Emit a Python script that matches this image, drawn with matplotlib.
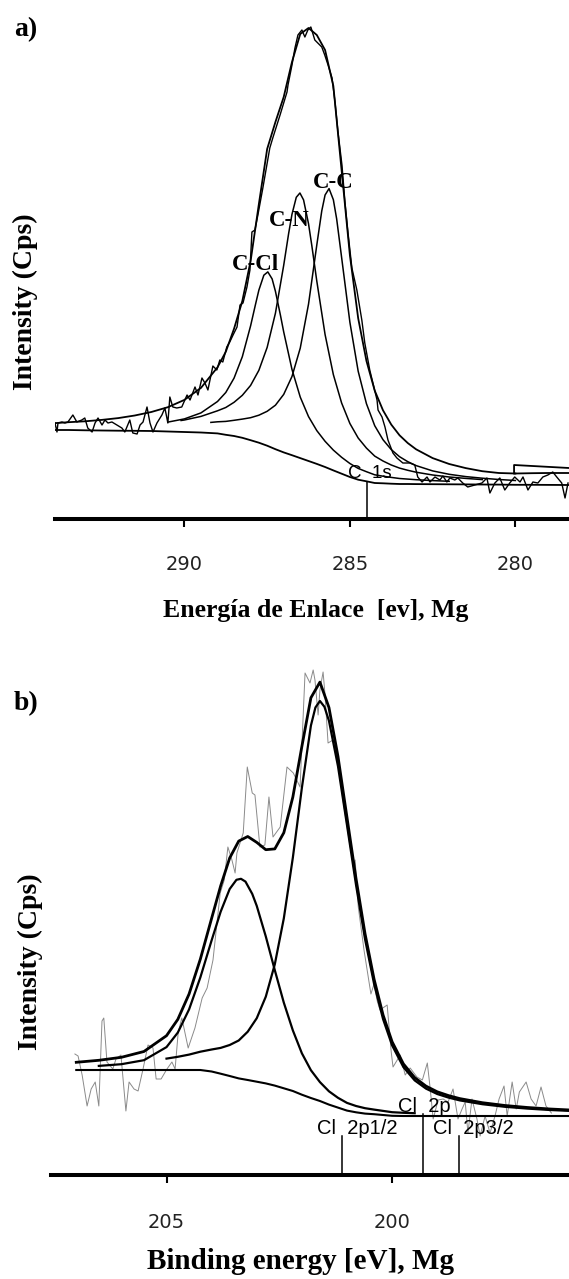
import matplotlib
matplotlib.use("Agg")
import matplotlib.pyplot as plt

# ================= panel a) : C 1s =================
e_raw_a = [293.91, 293.85, 293.82, 293.70, 293.61, 293.52, 293.37, 293.25, 293.10, 293.01,
           292.92, 292.79, 292.70, 292.61, 292.49, 292.40, 292.31, 292.19, 292.04, 291.89,
           291.80, 291.65, 291.56, 291.43, 291.34, 291.25, 291.13, 291.04, 290.95, 290.83,
           290.68, 290.59, 290.50, 290.44, 290.35, 290.23, 290.08, 289.92, 289.83, 289.68,
           289.59, 289.47, 289.38, 289.29, 289.14, 289.02, 288.93, 288.84, 288.72, 288.63,
           288.53, 288.41, 288.32, 288.23, 288.11, 288.02, 287.96, 287.87, 287.78, 287.63,
           287.42, 287.33, 287.11, 286.90, 286.87, 286.75, 286.66, 286.57, 286.45, 286.36,
           286.27, 286.18, 286.06, 285.85, 285.76, 285.66, 285.54, 285.45, 285.36, 285.24,
           285.15, 285.06, 284.94, 284.79, 284.64, 284.55, 284.40, 284.18, 284.15, 284.03,
           283.94, 283.85, 283.70, 283.58, 283.40, 283.19, 283.04, 282.95, 282.82, 282.67,
           282.58, 282.43, 282.28, 282.19, 282.07, 281.98, 281.83, 281.74, 281.59, 281.44,
           281.22, 281.01, 280.86, 280.77, 280.62, 280.47, 280.32, 280.17, 280.02, 279.86,
           279.77, 279.62, 279.47, 279.32, 279.17, 279.02, 278.87, 278.75, 278.60, 278.50,
           278.41]
i_raw_a = [960, 870, 960, 970, 960, 970, 1040, 970, 990, 1010,
           910, 870, 960, 1010, 940, 990, 960, 970, 940, 910,
           870, 990, 860, 850, 940, 970, 1120, 960, 870, 960,
           1040, 1110, 960, 1220, 1120, 1110, 1120, 1240, 1190, 1320,
           1240, 1410, 1360, 1290, 1530, 1490, 1590, 1570, 1720, 1770,
           1840, 1920, 2140, 2160, 2320, 2490, 2870, 2890, 3040, 3310,
           3710, 3810, 4040, 4270, 4340, 4540, 4710, 4840, 4890, 4820,
           4890, 4920, 4790, 4720, 4640, 4540, 4410, 4170, 3870, 3540,
           3170, 2870, 2510, 2290, 1990, 1760, 1490, 1190, 1090, 1020,
           920, 790, 660, 610, 560, 560, 540, 420, 370, 420,
           370, 420, 390, 430, 370, 410, 390, 410, 360, 320,
           340, 360, 410, 260, 360, 410, 290, 360, 420, 370,
           420, 290, 370, 360, 420, 440, 470, 420, 360, 210,
           360]

e_fit_a = [293.9, 293.5, 293.0, 292.5, 292.0, 291.5, 291.0, 290.5, 290.0, 289.5,
           289.0, 288.75, 288.5, 288.25, 288.0, 287.75, 287.5, 287.25, 287.0, 286.75,
           286.5, 286.25, 286.0, 285.75, 285.5, 285.25, 285.0, 284.75, 284.5, 284.25,
           284.0, 283.75, 283.5, 283.25, 283.0, 282.5, 282.0, 281.5, 281.0, 280.5,
           280.0, 279.5, 279.0, 278.4]
bg_a = [890, 890, 887, 885, 883, 882, 880, 875, 870, 865,
        856, 842, 830, 812, 788, 763, 733, 698, 666, 638,
        609, 580, 551, 520, 486, 453, 420, 393, 377, 360,
        357, 353, 350, 350, 349, 348, 347, 346, 345, 344,
        342, 342, 341, 340]
env_a = [959, 968, 977, 991, 1009, 1035, 1070, 1118, 1191, 1311,
         1517, 1672, 1903, 2180, 2580, 3150, 3700, 3970, 4220, 4570,
         4850, 4910, 4840, 4690, 4330, 3486, 2637, 2008, 1581, 1284,
         1087, 944, 837, 759, 697, 609, 550, 509, 478, 460,
         455, 458, 460, 460]

e_cc = [289.2, 289.0, 288.75, 288.5, 288.25, 288.0, 287.75, 287.5, 287.25, 287.0,
        286.75, 286.5, 286.25, 286.0, 285.85, 285.75, 285.63, 285.5, 285.4, 285.25,
        285.0, 284.75, 284.5, 284.25, 284.0, 283.75, 283.5, 283.25, 283.0, 282.5,
        282.0, 281.5, 281.0, 280.5, 280.0]
i_cc = [966, 972, 976, 987, 999, 1013, 1038, 1077, 1138, 1246,
        1425, 1709, 2149, 2740, 3081, 3240, 3304, 3193, 3001, 2615,
        1967, 1478, 1153, 933, 793, 694, 623, 573, 534, 481,
        447, 424, 408, 395, 385]

e_cn = [290.1, 290.0, 289.5, 289.0, 288.75, 288.5, 288.25, 288.0, 287.75, 287.5,
        287.25, 287.0, 286.85, 286.75, 286.62, 286.51, 286.4, 286.25, 286.15, 286.0,
        285.75, 285.5, 285.25, 285.0, 284.75, 284.5, 284.25, 284.0, 283.75, 283.5,
        283.25, 283.0, 282.5, 282.0, 281.5, 281.0]
i_cn = [985, 990, 1026, 1082, 1115, 1167, 1237, 1336, 1487, 1716,
        2058, 2537, 2857, 3047, 3217, 3260, 3191, 2952, 2733, 2379,
        1845, 1444, 1160, 955, 810, 709, 629, 580, 540, 509,
        487, 468, 440, 420, 406, 394]

e_ccl = [290.5, 290.0, 289.5, 289.0, 288.75, 288.5, 288.25, 288.0, 287.85, 287.75,
         287.6, 287.48, 287.35, 287.25, 287.1, 287.0, 286.75, 286.5, 286.25, 286.0,
         285.75, 285.5, 285.25, 285.0, 284.75, 284.5, 284.25, 284.0, 283.75, 283.5,
         283.0, 282.5, 282.0]
i_ccl = [969, 1001, 1061, 1175, 1265, 1409, 1623, 1932, 2149, 2289,
         2438, 2471, 2401, 2277, 2040, 1871, 1496, 1219, 1024, 884,
         777, 689, 617, 555, 506, 473, 442, 428, 416, 405,
         393, 384, 377]

e_step_a = [280.04, 280.04, 278.38]
i_step_a = [455, 540, 510]

c1s_pos = 284.49
c1s_top = 370
ticks_a = [290, 285, 280]
labels_a = ["C-Cl", "C-N", "C-C"]

# ================= panel b) : Cl 2p =================
e_raw_b = [207.03, 206.96, 206.87, 206.76, 206.67, 206.58, 206.50, 206.43, 206.39, 206.32,
           206.19, 206.12, 206.01, 205.90, 205.83, 205.72, 205.63, 205.52, 205.41, 205.30,
           205.23, 205.12, 204.99, 204.88, 204.81, 204.74, 204.66, 204.52, 204.37, 204.21,
           204.10, 203.97, 203.81, 203.72, 203.64, 203.55, 203.48, 203.44, 203.30, 203.21,
           203.10, 203.04, 202.93, 202.82, 202.73, 202.64, 202.48, 202.33, 202.19, 202.04,
           201.93, 201.82, 201.75, 201.71, 201.64, 201.60, 201.53, 201.49, 201.42, 201.31,
           201.22, 201.09, 200.93, 200.89, 200.86, 200.82, 200.75, 200.62, 200.47, 200.40,
           200.33, 200.27, 200.11, 200.02, 199.98, 199.82, 199.71, 199.60, 199.45, 199.33,
           199.22, 199.16, 199.09, 198.98, 198.87, 198.76, 198.65, 198.54, 198.45, 198.38,
           198.32, 198.23, 198.12, 198.05, 197.94, 197.83, 197.72, 197.63, 197.52, 197.45,
           197.34, 197.25, 197.18, 197.03, 196.92, 196.81, 196.70, 196.59, 196.47]
i_raw_b = [1210, 1190, 1000, 690, 860, 930, 690, 1540, 1570, 1130,
           1060, 1160, 1200, 640, 930, 860, 840, 1060, 1300, 1270,
           960, 960, 1060, 1130, 1060, 1430, 1570, 1270, 1470, 1770,
           1870, 2150, 2820, 2950, 3280, 3150, 3020, 3220, 3420, 4080,
           3820, 3800, 3280, 3300, 3780, 3380, 3480, 4080, 4020, 3880,
           5020, 4920, 5050, 4950, 4600, 4850, 5030, 4820, 4320, 4350,
           4180, 3750, 3280, 3220, 3080, 3150, 2680, 2240, 1810, 1910,
           1740, 1650, 1700, 1230, 1080, 1200, 1000, 1070, 980, 950,
           1120, 880, 560, 750, 760, 730, 860, 560, 660, 730,
           420, 760, 560, 390, 590, 420, 590, 760, 890, 590,
           930, 660, 830, 930, 760, 690, 880, 690, 620]

e_fit_b = [207.0, 206.5, 206.0, 205.5, 205.0, 204.75, 204.5, 204.25, 204.0, 203.8,
           203.6, 203.4, 203.2, 203.0, 202.8, 202.6, 202.4, 202.2, 202.0, 201.8,
           201.6, 201.4, 201.2, 201.0, 200.8, 200.6, 200.4, 200.2, 200.0, 199.75,
           199.5, 199.25, 199.0, 198.75, 198.5, 198.0, 197.5, 197.0, 196.5, 196.1]
bg_b = [1050, 1050, 1050, 1050, 1050, 1050, 1050, 1050, 1035, 1013,
        990, 966, 950, 933, 916, 894, 867, 840, 803, 770,
        740, 704, 674, 644, 627, 614, 608, 600, 592, 590,
        590, 590, 590, 590, 590, 590, 590, 590, 590, 590]
env_b = [1127, 1147, 1177, 1235, 1393, 1556, 1810, 2159, 2567, 2891,
         3170, 3339, 3385, 3326, 3253, 3261, 3423, 3780, 4286, 4772,
         4929, 4675, 4186, 3575, 2964, 2412, 1958, 1599, 1332, 1111,
         974, 889, 832, 794, 764, 723, 695, 675, 660, 651]

e_p32 = [205.0, 204.75, 204.5, 204.25, 204.0, 203.8, 203.6, 203.4, 203.2, 203.0,
         202.8, 202.6, 202.4, 202.2, 202.0, 201.8, 201.7, 201.6, 201.5, 201.4,
         201.2, 201.0, 200.8, 200.6, 200.4, 200.2, 200.0, 199.75, 199.5, 199.25,
         199.0, 198.75, 198.5, 198.0, 197.5, 197.0, 196.5, 196.1]
i_p32 = [1164, 1182, 1204, 1233, 1255, 1271, 1300, 1345, 1433, 1568,
         1783, 2107, 2567, 3174, 3872, 4494, 4675, 4740, 4682, 4542,
         4088, 3498, 2901, 2358, 1912, 1558, 1296, 1079, 946, 864,
         810, 774, 746, 708, 682, 664, 650, 642]

e_p12 = [206.5, 206.0, 205.5, 205.0, 204.75, 204.5, 204.25, 204.0, 203.8, 203.6,
         203.45, 203.35, 203.25, 203.1, 203.0, 202.8, 202.6, 202.4, 202.2, 202.0,
         201.8, 201.6, 201.4, 201.2, 201.0, 200.8, 200.6, 200.4, 200.2, 200.0,
         199.75, 199.5]
i_p12 = [1091, 1108, 1148, 1279, 1424, 1656, 1976, 2347, 2633, 2860,
         2952, 2962, 2934, 2811, 2691, 2386, 2048, 1723, 1446, 1217,
         1048, 929, 837, 772, 721, 690, 668, 654, 641, 628,
         622, 618]

cl_pos = [201.11, 199.31, 198.51]
cl_tops = [390, 610, 390]
cl_labels = ["Cl  2p1/2", "Cl  2p", "Cl  2p3/2"]
ticks_b = [205, 200]

# ================= drawing =================
SERIF = "Liberation Serif"
SANS = "Liberation Sans"

fig = plt.figure(figsize=(5.69, 12.79), dpi=100)
fig.patch.set_facecolor("white")

def style_axes(ax, ticks, pad):
    for s in ("left", "right", "top"):
        ax.spines[s].set_visible(False)
    ax.spines["bottom"].set_linewidth(2.9)
    ax.set_yticks([])
    ax.set_xticks(ticks)
    ax.tick_params(axis="x", direction="out", length=6, width=1.5, pad=pad,
                   labelsize=14)
    for lab in ax.get_xticklabels():
        lab.set_fontfamily("DejaVu Sans")
        lab.set_color("#222222")

# ---- panel a ----
ax1 = fig.add_axes([55 / 569, (1279 - 519) / 1279, 514 / 569, 504 / 1279])
ax1.plot(e_raw_a, i_raw_a, color="black", lw=1.0, zorder=2)
ax1.plot(e_fit_a, bg_a, color="black", lw=1.3, zorder=3)
ax1.plot(e_fit_a[:41], env_a[:41], color="black", lw=1.3, zorder=3)
ax1.plot(e_fit_a[40:], env_a[40:], color="black", lw=1.3, zorder=3)
ax1.plot(e_step_a, i_step_a, color="black", lw=1.3, zorder=3)
ax1.plot(e_cc, i_cc, color="black", lw=1.1, zorder=3)
ax1.plot(e_cn, i_cn, color="black", lw=1.1, zorder=3)
ax1.plot(e_ccl, i_ccl, color="black", lw=1.1, zorder=3)
ax1.plot([c1s_pos, c1s_pos], [0, c1s_top], color="black", lw=1.1, zorder=3)
ax1.text(285.06, 410, "C  1s", fontsize=13.5, family=SANS, ha="left", va="baseline")
ax1.text(287.84, 2490, labels_a[0], fontsize=16.5, family=SERIF, weight="bold",
         ha="center", va="baseline")
ax1.text(286.84, 2930, labels_a[1], fontsize=16.5, family=SERIF, weight="bold",
         ha="center", va="baseline")
ax1.text(285.51, 3310, labels_a[2], fontsize=16.5, family=SERIF, weight="bold",
         ha="center", va="baseline")
ax1.set_xlim(293.91, 278.38)
ax1.set_ylim(0, 5040)
style_axes(ax1, ticks_a, 20)
ax1.set_xlabel("Energía de Enlace  [ev], Mg", fontsize=18.5, family=SERIF, weight="bold")
ax1.xaxis.set_label_coords(0.5078, -0.1806)
ax1.xaxis.label.set_va("center")
ax1.set_ylabel("Intensity (Cps)", fontsize=20, family=SERIF, weight="bold")
ax1.yaxis.set_label_coords(-0.0584, 0.4306)
ax1.yaxis.label.set_va("center")

# ---- panel b ----
ax2 = fig.add_axes([51 / 569, (1279 - 1175) / 1279, 518 / 569, 520 / 1279])
ax2.plot(e_raw_b, i_raw_b, color="#8a8a8a", lw=0.7, zorder=2)
ax2.plot(e_fit_b, bg_b, color="black", lw=1.5, zorder=3)
ax2.plot(e_fit_b, env_b, color="black", lw=2.0, zorder=3)
ax2.plot(e_p32, i_p32, color="black", lw=1.6, zorder=3)
ax2.plot(e_p12, i_p12, color="black", lw=1.6, zorder=3)
for pos, top in zip(cl_pos, cl_tops):
    ax2.plot([pos, pos], [0, top], color="black", lw=1.1, zorder=3)
ax2.text(201.66, 410, cl_labels[0], fontsize=14.5, family=SANS, ha="left", va="baseline")
ax2.text(199.87, 630, cl_labels[1], fontsize=14.5, family=SANS, ha="left", va="baseline")
ax2.text(199.09, 410, cl_labels[2], fontsize=14.5, family=SANS, ha="left", va="baseline")
ax2.set_xlim(207.56, 196.08)
ax2.set_ylim(0, 5200)
style_axes(ax2, ticks_b, 21)
ax2.set_xlabel("Binding energy [eV], Mg", fontsize=21, family=SERIF, weight="bold")
ax2.xaxis.set_label_coords(0.4826, -0.1673)
ax2.xaxis.label.set_va("center")
ax2.set_ylabel("Intensity (Cps)", fontsize=20, family=SERIF, weight="bold")
ax2.yaxis.set_label_coords(-0.0405, 0.4096)
ax2.yaxis.label.set_va("center")

fig.text(26 / 569, 1 - 30 / 1279, "a)", fontsize=20, family=SERIF, weight="bold",
         ha="center", va="center")
fig.text(26 / 569, 1 - 704 / 1279, "b)", fontsize=20, family=SERIF, weight="bold",
         ha="center", va="center")

fig.savefig("out.png", dpi=100, facecolor="white")
